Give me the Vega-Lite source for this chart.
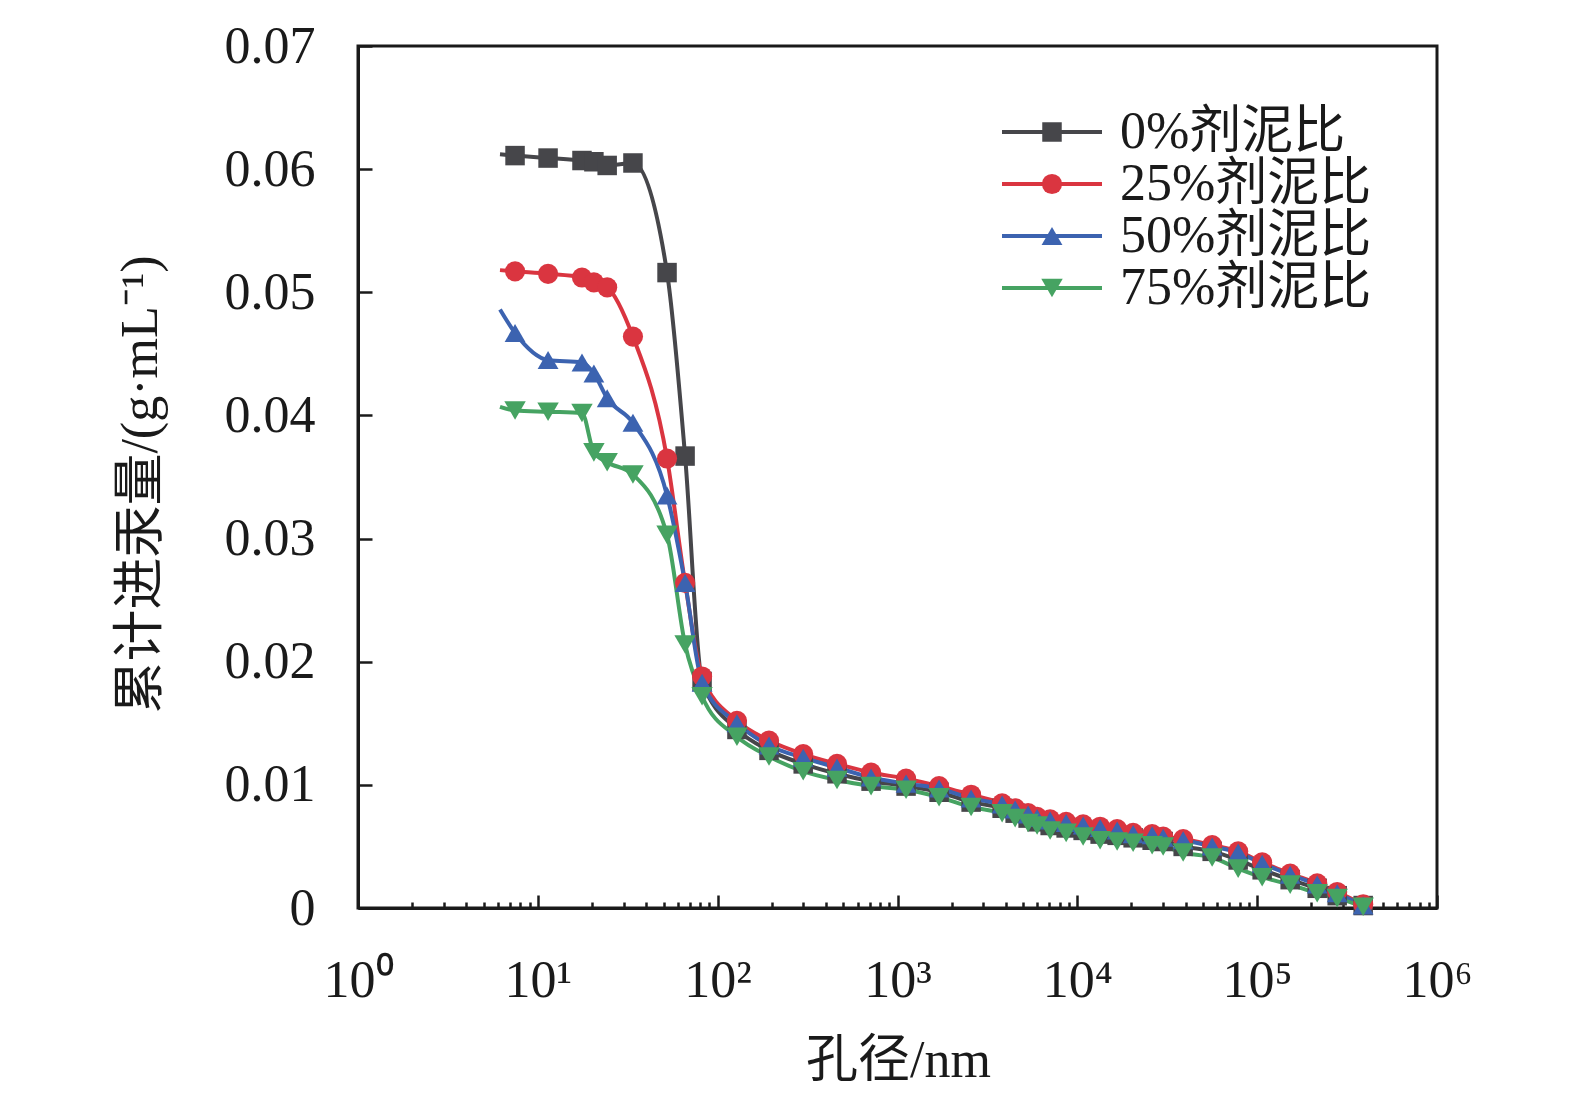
{
  "$schema": "https://vega.github.io/schema/vega-lite/v6.json",
  "autosize": {"type": "none"},
  "width": 1079,
  "height": 862,
  "padding": {"left": 358, "top": 46, "right": 138, "bottom": 204},
  "background": "white",
  "config": {
    "view": {"stroke": "#1a1a1a", "strokeWidth": 3},
    "axis": {
      "grid": false,
      "domainColor": "#1a1a1a",
      "domainWidth": 3,
      "tickColor": "#1a1a1a",
      "tickWidth": 2.5,
      "labelFont": "Liberation Serif",
      "labelFontSize": 52,
      "labelColor": "#1a1a1a",
      "titleFont": "Liberation Serif, Noto Sans CJK SC",
      "titleFontSize": 52,
      "titleFontWeight": "normal",
      "titleColor": "#1a1a1a"
    },
    "legend": {
      "orient": "none",
      "legendX": 668,
      "legendY": 60,
      "labelFont": "Liberation Serif, Noto Sans CJK SC",
      "labelFontSize": 52,
      "labelColor": "#1a1a1a",
      "symbolSize": 400,
      "labelOffset": 42,
      "rowPadding": -4,
      "labelLimit": 400
    }
  },
  "data": {
    "values": [
      {"series": "0%剂泥比", "size": 6.16, "volume": 0.0612},
      {"series": "0%剂泥比", "size": 7.47, "volume": 0.0611},
      {"series": "0%剂泥比", "size": 11.4, "volume": 0.0609},
      {"series": "0%剂泥比", "size": 17.6, "volume": 0.0607},
      {"series": "0%剂泥比", "size": 20.5, "volume": 0.0606},
      {"series": "0%剂泥比", "size": 24.3, "volume": 0.0603},
      {"series": "0%剂泥比", "size": 33.8, "volume": 0.0605},
      {"series": "0%剂泥比", "size": 52.3, "volume": 0.0516},
      {"series": "0%剂泥比", "size": 65.9, "volume": 0.0367},
      {"series": "0%剂泥比", "size": 81.9, "volume": 0.0184},
      {"series": "0%剂泥比", "size": 128, "volume": 0.0145},
      {"series": "0%剂泥比", "size": 193, "volume": 0.0128},
      {"series": "0%剂泥比", "size": 299, "volume": 0.0117},
      {"series": "0%剂泥比", "size": 461, "volume": 0.0109},
      {"series": "0%剂泥比", "size": 713, "volume": 0.0103},
      {"series": "0%剂泥比", "size": 1116, "volume": 0.0099},
      {"series": "0%剂泥比", "size": 1703, "volume": 0.0094},
      {"series": "0%剂泥比", "size": 2567, "volume": 0.0086},
      {"series": "0%剂泥比", "size": 3818, "volume": 0.0081},
      {"series": "0%剂泥比", "size": 4510, "volume": 0.0077},
      {"series": "0%剂泥比", "size": 5325, "volume": 0.0073},
      {"series": "0%剂泥比", "size": 5975, "volume": 0.0070},
      {"series": "0%剂泥比", "size": 7060, "volume": 0.0067},
      {"series": "0%剂泥比", "size": 8665, "volume": 0.0065},
      {"series": "0%剂泥比", "size": 10770, "volume": 0.0063},
      {"series": "0%剂泥比", "size": 13390, "volume": 0.0060},
      {"series": "0%剂泥比", "size": 16650, "volume": 0.0059},
      {"series": "0%剂泥比", "size": 20430, "volume": 0.0057},
      {"series": "0%剂泥比", "size": 26060, "volume": 0.0055},
      {"series": "0%剂泥比", "size": 30010, "volume": 0.0054},
      {"series": "0%剂泥比", "size": 38770, "volume": 0.0050},
      {"series": "0%剂泥比", "size": 56200, "volume": 0.0046},
      {"series": "0%剂泥比", "size": 78400, "volume": 0.0039},
      {"series": "0%剂泥比", "size": 106600, "volume": 0.0031},
      {"series": "0%剂泥比", "size": 152600, "volume": 0.0023},
      {"series": "0%剂泥比", "size": 215700, "volume": 0.0016},
      {"series": "0%剂泥比", "size": 278600, "volume": 0.0010},
      {"series": "0%剂泥比", "size": 388600, "volume": 0.0002},

      {"series": "25%剂泥比", "size": 6.16, "volume": 0.0518},
      {"series": "25%剂泥比", "size": 7.47, "volume": 0.0517},
      {"series": "25%剂泥比", "size": 11.4, "volume": 0.0515},
      {"series": "25%剂泥比", "size": 17.6, "volume": 0.0512},
      {"series": "25%剂泥比", "size": 20.5, "volume": 0.0508},
      {"series": "25%剂泥比", "size": 24.3, "volume": 0.0504},
      {"series": "25%剂泥比", "size": 33.8, "volume": 0.0464},
      {"series": "25%剂泥比", "size": 52.3, "volume": 0.0365},
      {"series": "25%剂泥比", "size": 65.9, "volume": 0.0264},
      {"series": "25%剂泥比", "size": 81.9, "volume": 0.0188},
      {"series": "25%剂泥比", "size": 128, "volume": 0.0152},
      {"series": "25%剂泥比", "size": 193, "volume": 0.0136},
      {"series": "25%剂泥比", "size": 299, "volume": 0.0125},
      {"series": "25%剂泥比", "size": 461, "volume": 0.0117},
      {"series": "25%剂泥比", "size": 713, "volume": 0.0110},
      {"series": "25%剂泥比", "size": 1116, "volume": 0.0105},
      {"series": "25%剂泥比", "size": 1703, "volume": 0.0099},
      {"series": "25%剂泥比", "size": 2567, "volume": 0.0092},
      {"series": "25%剂泥比", "size": 3818, "volume": 0.0085},
      {"series": "25%剂泥比", "size": 4510, "volume": 0.0081},
      {"series": "25%剂泥比", "size": 5325, "volume": 0.0077},
      {"series": "25%剂泥比", "size": 5975, "volume": 0.0074},
      {"series": "25%剂泥比", "size": 7060, "volume": 0.0072},
      {"series": "25%剂泥比", "size": 8665, "volume": 0.0070},
      {"series": "25%剂泥比", "size": 10770, "volume": 0.0068},
      {"series": "25%剂泥比", "size": 13390, "volume": 0.0066},
      {"series": "25%剂泥比", "size": 16650, "volume": 0.0064},
      {"series": "25%剂泥比", "size": 20430, "volume": 0.0061},
      {"series": "25%剂泥比", "size": 26060, "volume": 0.0060},
      {"series": "25%剂泥比", "size": 30010, "volume": 0.0058},
      {"series": "25%剂泥比", "size": 38770, "volume": 0.0056},
      {"series": "25%剂泥比", "size": 56200, "volume": 0.0051},
      {"series": "25%剂泥比", "size": 78400, "volume": 0.0046},
      {"series": "25%剂泥比", "size": 106600, "volume": 0.0037},
      {"series": "25%剂泥比", "size": 152600, "volume": 0.0028},
      {"series": "25%剂泥比", "size": 215700, "volume": 0.0020},
      {"series": "25%剂泥比", "size": 278600, "volume": 0.0013},
      {"series": "25%剂泥比", "size": 388600, "volume": 0.0003},

      {"series": "50%剂泥比", "size": 6.16, "volume": 0.0486},
      {"series": "50%剂泥比", "size": 7.47, "volume": 0.0467},
      {"series": "50%剂泥比", "size": 11.4, "volume": 0.0445},
      {"series": "50%剂泥比", "size": 17.6, "volume": 0.0443},
      {"series": "50%剂泥比", "size": 20.5, "volume": 0.0434},
      {"series": "50%剂泥比", "size": 24.3, "volume": 0.0414},
      {"series": "50%剂泥比", "size": 33.8, "volume": 0.0394},
      {"series": "50%剂泥比", "size": 52.3, "volume": 0.0335},
      {"series": "50%剂泥比", "size": 65.9, "volume": 0.0264},
      {"series": "50%剂泥比", "size": 81.9, "volume": 0.0183},
      {"series": "50%剂泥比", "size": 128, "volume": 0.0150},
      {"series": "50%剂泥比", "size": 193, "volume": 0.0132},
      {"series": "50%剂泥比", "size": 299, "volume": 0.0122},
      {"series": "50%剂泥比", "size": 461, "volume": 0.0114},
      {"series": "50%剂泥比", "size": 713, "volume": 0.0106},
      {"series": "50%剂泥比", "size": 1116, "volume": 0.0101},
      {"series": "50%剂泥比", "size": 1703, "volume": 0.0097},
      {"series": "50%剂泥比", "size": 2567, "volume": 0.0089},
      {"series": "50%剂泥比", "size": 3818, "volume": 0.0084},
      {"series": "50%剂泥比", "size": 4510, "volume": 0.0080},
      {"series": "50%剂泥比", "size": 5325, "volume": 0.0076},
      {"series": "50%剂泥比", "size": 5975, "volume": 0.0073},
      {"series": "50%剂泥比", "size": 7060, "volume": 0.0071},
      {"series": "50%剂泥比", "size": 8665, "volume": 0.0069},
      {"series": "50%剂泥比", "size": 10770, "volume": 0.0067},
      {"series": "50%剂泥比", "size": 13390, "volume": 0.0065},
      {"series": "50%剂泥比", "size": 16650, "volume": 0.0063},
      {"series": "50%剂泥比", "size": 20430, "volume": 0.0060},
      {"series": "50%剂泥比", "size": 26060, "volume": 0.0059},
      {"series": "50%剂泥比", "size": 30010, "volume": 0.0057},
      {"series": "50%剂泥比", "size": 38770, "volume": 0.0055},
      {"series": "50%剂泥比", "size": 56200, "volume": 0.0050},
      {"series": "50%剂泥比", "size": 78400, "volume": 0.0045},
      {"series": "50%剂泥比", "size": 106600, "volume": 0.0036},
      {"series": "50%剂泥比", "size": 152600, "volume": 0.0027},
      {"series": "50%剂泥比", "size": 215700, "volume": 0.0019},
      {"series": "50%剂泥比", "size": 278600, "volume": 0.0012},
      {"series": "50%剂泥比", "size": 388600, "volume": 0.0002},

      {"series": "75%剂泥比", "size": 6.16, "volume": 0.0407},
      {"series": "75%剂泥比", "size": 7.47, "volume": 0.0404},
      {"series": "75%剂泥比", "size": 11.4, "volume": 0.0403},
      {"series": "75%剂泥比", "size": 17.6, "volume": 0.0402},
      {"series": "75%剂泥比", "size": 20.5, "volume": 0.0370},
      {"series": "75%剂泥比", "size": 24.3, "volume": 0.0362},
      {"series": "75%剂泥比", "size": 33.8, "volume": 0.0352},
      {"series": "75%剂泥比", "size": 52.3, "volume": 0.0303},
      {"series": "75%剂泥比", "size": 65.9, "volume": 0.0214},
      {"series": "75%剂泥比", "size": 81.9, "volume": 0.0172},
      {"series": "75%剂泥比", "size": 128, "volume": 0.0139},
      {"series": "75%剂泥比", "size": 193, "volume": 0.0123},
      {"series": "75%剂泥比", "size": 299, "volume": 0.0111},
      {"series": "75%剂泥比", "size": 461, "volume": 0.0104},
      {"series": "75%剂泥比", "size": 713, "volume": 0.0099},
      {"series": "75%剂泥比", "size": 1116, "volume": 0.0096},
      {"series": "75%剂泥比", "size": 1703, "volume": 0.0090},
      {"series": "75%剂泥比", "size": 2567, "volume": 0.0082},
      {"series": "75%剂泥比", "size": 3818, "volume": 0.0077},
      {"series": "75%剂泥比", "size": 4510, "volume": 0.0073},
      {"series": "75%剂泥比", "size": 5325, "volume": 0.0069},
      {"series": "75%剂泥比", "size": 5975, "volume": 0.0067},
      {"series": "75%剂泥比", "size": 7060, "volume": 0.0063},
      {"series": "75%剂泥比", "size": 8665, "volume": 0.0061},
      {"series": "75%剂泥比", "size": 10770, "volume": 0.0058},
      {"series": "75%剂泥比", "size": 13390, "volume": 0.0055},
      {"series": "75%剂泥比", "size": 16650, "volume": 0.0054},
      {"series": "75%剂泥比", "size": 20430, "volume": 0.0053},
      {"series": "75%剂泥比", "size": 26060, "volume": 0.0051},
      {"series": "75%剂泥比", "size": 30010, "volume": 0.0050},
      {"series": "75%剂泥比", "size": 38770, "volume": 0.0045},
      {"series": "75%剂泥比", "size": 56200, "volume": 0.0041},
      {"series": "75%剂泥比", "size": 78400, "volume": 0.0032},
      {"series": "75%剂泥比", "size": 106600, "volume": 0.0025},
      {"series": "75%剂泥比", "size": 152600, "volume": 0.0019},
      {"series": "75%剂泥比", "size": 215700, "volume": 0.0012},
      {"series": "75%剂泥比", "size": 278600, "volume": 0.0008},
      {"series": "75%剂泥比", "size": 388600, "volume": 0.0001}
    ]
  },
  "encoding": {
    "x": {
      "field": "size",
      "type": "quantitative",
      "scale": {"type": "log", "domain": [1, 1000000], "nice": false},
      "axis": {
        "title": "孔径/nm",
        "titleX": 540,
        "titleY": 152,
        "titleBaseline": "middle",
        "values": [1,2,3,4,5,6,7,8,9,10,20,30,40,50,60,70,80,90,100,200,300,400,500,600,700,800,900,1000,2000,3000,4000,5000,6000,7000,8000,9000,10000,20000,30000,40000,50000,60000,70000,80000,90000,100000,200000,300000,400000,500000,600000,700000,800000,900000,1000000],
        "labelExpr": "indexof([1,10,100,1000,10000,100000,1000000], datum.value) >= 0 ? '10' + ['⁰','¹','²','³','⁴','⁵','⁶'][indexof([1,10,100,1000,10000,100000,1000000], datum.value)] : ''",
        "tickSize": {"condition": {"test": "indexof([1,10,100,1000,10000,100000,1000000], datum.value) >= 0", "value": -13}, "value": -6},
        "labelPadding": 60,
        "labelFlush": false,
        "labelOverlap": false
      }
    },
    "y": {
      "field": "volume",
      "type": "quantitative",
      "scale": {"domain": [0, 0.07], "nice": false},
      "axis": {
        "title": "累计进汞量/(g·mL⁻¹)",
        "titleX": -218,
        "titleY": 438,
        "titleAngle": -90,
        "titleAlign": "center",
        "titleBaseline": "middle",
        "values": [0, 0.01, 0.02, 0.03, 0.04, 0.05, 0.06, 0.07],
        "labelExpr": "datum.value == 0 ? '0' : format(datum.value, '.2f')",
        "tickSize": -14,
        "labelPadding": 57
      }
    }
  },
  "layer": [
    {
      "mark": {"type": "line", "interpolate": "monotone", "strokeWidth": 4},
      "encoding": {
        "stroke": {
          "field": "series",
          "type": "nominal",
          "scale": {"range": ["#46464a", "#da3540", "#3c63b0", "#46a362"]},
          "legend": {
            "title": null,
            "symbolType": "M-5,0H5",
            "symbolStrokeWidth": 4,
            "symbolSize": 400
          }
        }
      }
    },
    {
      "transform": [{"filter": "datum.size > 7"}],
      "mark": {"type": "point", "filled": true, "opacity": 1},
      "encoding": {
        "fill": {
          "field": "series",
          "type": "nominal",
          "scale": {
            "domain": ["0%剂泥比", "25%剂泥比", "50%剂泥比", "75%剂泥比"],
            "range": ["#46464a", "#da3540", "#3c63b0", "#46a362"]
          },
          "legend": {"title": null, "labelExpr": "' '", "symbolStrokeWidth": 0}
        },
        "shape": {
          "field": "series",
          "type": "nominal",
          "scale": {
            "domain": ["0%剂泥比", "25%剂泥比", "50%剂泥比", "75%剂泥比"],
            "range": ["square", "circle", "triangle-up", "triangle-down"]
          },
          "legend": {"title": null, "labelExpr": "' '", "symbolStrokeWidth": 0}
        },
        "size": {
          "field": "series",
          "type": "ordinal",
          "scale": {
            "domain": ["0%剂泥比", "25%剂泥比", "50%剂泥比", "75%剂泥比"],
            "range": [380, 460, 580, 580]
          },
          "legend": {"title": null, "labelExpr": "' '", "symbolStrokeWidth": 0}
        }
      }
    }
  ]
}
